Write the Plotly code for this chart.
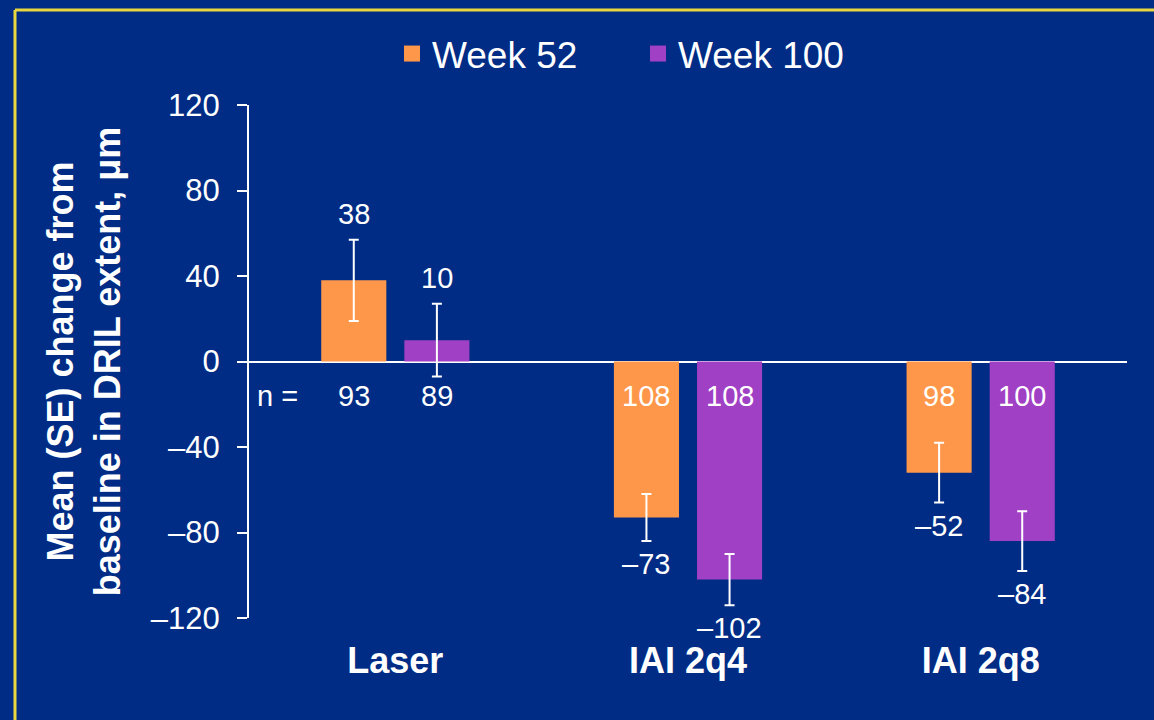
import plotly.graph_objects as go

# Data: mean (SE) change from baseline in DRIL extent, µm
groups = ["Laser", "IAI 2q4", "IAI 2q8"]
week52_mean = [38, -73, -52]
week52_se = [19, 11, 14]
week52_n = [93, 108, 98]
week100_mean = [10, -102, -84]
week100_se = [17, 12, 14]
week100_n = [89, 108, 100]
y_ticks = [-120, -80, -40, 0, 40, 80, 120]

BG = "#002C85"
ORANGE = "#FF974A"
PURPLE = "#A040C4"
YELLOW = "#EAD63E"
FONT = "Liberation Sans, Arial, sans-serif"

BARGAP = 0.432
BARGROUPGAP = 0.217
half_slot = (1 - BARGAP) / 4  # offset of each bar centre from its category centre


def dash(v):
    return f"\u2013{abs(v)}" if v < 0 else str(v)


fig = go.Figure()

series = [
    ("Week 52", week52_mean, week52_se, week52_n, ORANGE, -half_slot),
    ("Week 100", week100_mean, week100_se, week100_n, PURPLE, half_slot),
]

for name, means, ses, ns, color, off in series:
    fig.add_trace(go.Bar(
        x=groups, y=means, name=name, showlegend=False,
        marker=dict(color=color, line=dict(width=0)),
        error_y=dict(type="data", array=ses, visible=True,
                     color="white", thickness=2, width=5),
    ))
    # legend proxy with a larger square swatch
    fig.add_trace(go.Scatter(
        x=[None], y=[None], mode="markers", name=name,
        marker=dict(symbol="square", size=19, color=color),
    ))
    for i, (m, s, n) in enumerate(zip(means, ses, ns)):
        # mean value beyond the error bar
        fig.add_annotation(
            x=i + off, y=m + s if m >= 0 else m - s,
            text=dash(m), showarrow=False,
            yshift=26 if m >= 0 else -23,
            font=dict(family=FONT, size=29, color="white"),
        )
        # number of patients just below the zero line
        fig.add_annotation(
            x=i + off, y=-16, text=str(n), showarrow=False,
            font=dict(family=FONT, size=29, color="white"),
        )

fig.add_annotation(
    x=0.007, xref="paper", y=-16, text="n =", showarrow=False,
    xanchor="left",
    font=dict(family=FONT, size=29, color="white"),
)

# yellow frame along the top and left edges
fig.add_shape(type="line", xref="paper", yref="paper",
              x0=(15 - 249) / 878, x1=(1160 - 249) / 878,
              y0=(618 - 10) / 513, y1=(618 - 10) / 513,
              line=dict(color=YELLOW, width=3))
fig.add_shape(type="line", xref="paper", yref="paper",
              x0=(15 - 249) / 878, x1=(15 - 249) / 878,
              y0=(618 - 10) / 513, y1=(618 - 730) / 513,
              line=dict(color=YELLOW, width=3))

fig.update_layout(
    width=1154, height=720,
    paper_bgcolor=BG, plot_bgcolor=BG,
    margin=dict(l=249, r=27, t=105, b=102, autoexpand=False),
    barmode="group", bargap=BARGAP, bargroupgap=BARGROUPGAP,
    font=dict(family=FONT, color="white"),
    legend=dict(
        orientation="h", xref="container", yref="container",
        x=392 / 1154, y=1 - 54 / 720, xanchor="left", yanchor="middle",
        font=dict(family=FONT, size=37, color="white"),
        bgcolor="rgba(0,0,0,0)", entrywidth=201, entrywidthmode="pixels",
    ),
    xaxis=dict(
        type="category", showline=False, showgrid=False, zeroline=False,
        ticks="", tickfont=dict(family=FONT, size=36, color="white", weight="bold"),
        ticklabelstandoff=18,
    ),
    yaxis=dict(
        range=[-120, 120], tickvals=y_ticks, ticktext=[dash(v) for v in y_ticks],
        showgrid=False, showline=True, linecolor="white", linewidth=2,
        ticks="outside", ticklen=10, tickwidth=2, tickcolor="white",
        tickfont=dict(family=FONT, size=31, color="white"),
        ticklabelstandoff=11,
        zeroline=True, zerolinecolor="white", zerolinewidth=2,
        title=dict(
            text="Mean (SE) change from<br>baseline in DRIL extent, \u03bcm",
            font=dict(family=FONT, size=36, color="white", weight="bold"),
            standoff=19,
        ),
    ),
)

fig.write_html("out.html")
